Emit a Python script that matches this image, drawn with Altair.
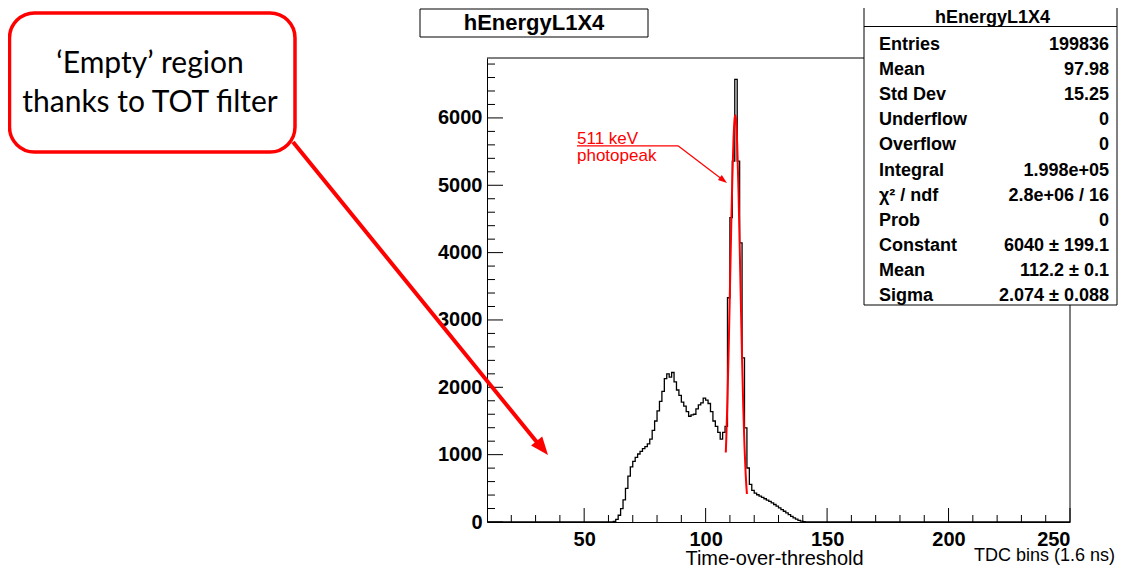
import altair as alt
import pandas as pd

# ---------------- data ----------------
hist_first_edge = 10          # left edge of first bin (TDC bins)
hist_last_edge = 250          # right edge of last bin
hist_lead_zeros = [0] * 50    # bins 10..59 are empty
# bins 60 .. 141 (width 1)
hist_counts_main = [
    0, 0, 10, 40, 100, 200, 330, 500, 680, 820,            # 60-69
    900, 960, 1010, 1050, 1090, 1120, 1160, 1230, 1360, 1500,  # 70-79
    1650, 1790, 1940, 2130, 2200, 2150, 2220, 2080, 1960, 1880,  # 80-89
    1780, 1720, 1640, 1570, 1590, 1600, 1680, 1740, 1770, 1840,  # 90-99
    1810, 1760, 1640, 1500, 1420, 1330, 1230, 1330, 1420, 3330,  # 100-109
    4520, 5360, 6573, 5360, 4145, 2437, 1397, 802, 560, 470,     # 110-119
    430, 405, 385, 365, 345, 325, 305, 285, 260, 235,            # 120-129
    210, 185, 160, 135, 110, 85, 62, 42, 25, 12,                 # 130-139
    5, 2,                                                        # 140-141
]

# red fit curve
fit_x = [108.3, 108.5, 109, 109.5, 110, 110.5, 111, 111.5, 112, 112.2,
         112.5, 113, 113.5, 114, 114.5, 115, 115.5, 116, 116.5, 117]
fit_y = [1031, 1230, 1836, 2589, 3441, 4316, 5109, 5705, 6012, 6040,
         5977, 5607, 4963, 4145, 3266, 2428, 1703, 1128, 704, 415]

y_major = [0, 1000, 2000, 3000, 4000, 5000, 6000]
y_minor = [200, 400, 600, 800, 1200, 1400, 1600, 1800, 2200, 2400, 2600, 2800,
           3200, 3400, 3600, 3800, 4200, 4400, 4600, 4800, 5200, 5400, 5600,
           5800, 6200, 6400, 6600, 6800]
x_major = [50, 100, 150, 200, 250]
x_minor = [20, 30, 40, 60, 70, 80, 90, 110, 120, 130, 140, 160, 170, 180, 190,
           210, 220, 230, 240]

y_max = 6890

title_text = "hEnergyL1X4"
stats_labels = ["Entries", "Mean", "Std Dev", "Underflow", "Overflow", "Integral",
                "χ² / ndf", "Prob", "Constant", "Mean", "Sigma"]
stats_values = ["199836", "97.98", "15.25", "0", "0", "1.998e+05", "2.8e+06 / 16",
                "0", "6040 ± 199.1", "112.2 ± 0.1", "2.074 ± 0.088"]
x_title = "Time-over-threshold"
x_unit = "TDC bins (1.6 ns)"
note_lines = ["‘Empty’ region", "thanks to TOT filter"]
peak_lines = ["511 keV", "photopeak"]

# ---------------- build tables ----------------
counts = hist_lead_zeros + hist_counts_main
counts = counts + [0] * (hist_last_edge - hist_first_edge - len(counts))
edges = list(range(hist_first_edge, hist_last_edge)) + [hist_last_edge]
hist_df = pd.DataFrame({"x": edges, "y": counts + [counts[-1]]})
fit_df = pd.DataFrame({"x": fit_x, "y": fit_y})
one = pd.DataFrame({"k": [0]})

W, H = 583, 464
D = 2   # plot sits 2px higher than the page decorations' reference frame
FONT = "Liberation Sans, Arial, Helvetica, sans-serif"
RED = "#ff0000"

xscale = alt.Scale(domain=[hist_first_edge, hist_last_edge], nice=False, zero=False)
yscale = alt.Scale(domain=[0, y_max], nice=False, zero=True)

xaxis = alt.Axis(values=x_major, format="d", ticks=False, tickSize=0, grid=False,
                 labelFont=FONT, labelFontWeight="bold", labelFontSize=20,
                 labelColor="black", labelPadding=7, domainColor="black",
                 domainWidth=1, title=x_title, titleFont=FONT,
                 titleFontWeight="normal", titleFontSize=20, titleColor="black",
                 titleX=287, titleY=42, titleBaseline="alphabetic")
yaxis = alt.Axis(values=y_major, format="d", ticks=False, tickSize=0, grid=False,
                 labelFont=FONT, labelFontWeight="bold", labelFontSize=20,
                 labelColor="black", labelPadding=5, domainColor="black",
                 domainWidth=1, title="")


def X(f):
    return alt.X(f, type="quantitative", scale=xscale, axis=xaxis)


def Y(f):
    return alt.Y(f, type="quantitative", scale=yscale, axis=yaxis)


def v(y):
    return alt.value(y + D)


# frame top / right
frame_top = alt.Chart(one).mark_rule(color="black", strokeWidth=1).encode(
    x=alt.value(0), x2=alt.value(W), y=alt.value(0))
frame_right = alt.Chart(one).mark_rule(color="black", strokeWidth=1).encode(
    x=alt.value(W), y=alt.value(0), y2=alt.value(H))

hist = alt.Chart(hist_df).mark_line(interpolate="step-after", color="black",
                                    strokeWidth=1.3, clip=True).encode(
    x=X("x"), y=Y("y"))

# inward ticks
ytick_major = alt.Chart(pd.DataFrame({"y": y_major})).mark_rule(color="black").encode(
    y=Y("y"), x=alt.value(0), x2=alt.value(16))
ytick_minor = alt.Chart(pd.DataFrame({"y": y_minor})).mark_rule(color="black").encode(
    y=Y("y"), x=alt.value(0), x2=alt.value(8))
xtick_major = alt.Chart(pd.DataFrame({"x": x_major})).mark_rule(color="black").encode(
    x=X("x"), y=alt.value(H), y2=alt.value(H - 14))
xtick_minor = alt.Chart(pd.DataFrame({"x": x_minor})).mark_rule(color="black").encode(
    x=X("x"), y=alt.value(H), y2=alt.value(H - 7))

fit = alt.Chart(fit_df).mark_line(interpolate="monotone", color=RED,
                                  strokeWidth=2, clip=True).encode(
    x=X("x"), y=Y("y"))

# stats box
sb_x1, sb_x2 = 377, 630
stats_box = alt.Chart(one).mark_rect(fill="white", stroke="black", strokeWidth=1).encode(
    x=alt.value(sb_x1), x2=alt.value(sb_x2), y=v(-70), y2=v(245))
stats_sep = alt.Chart(one).mark_rule(color="black", strokeWidth=1).encode(
    x=alt.value(sb_x1), x2=alt.value(sb_x2), y=v(-33.5))
stats_title = alt.Chart(one).mark_text(font=FONT, fontWeight="bold", fontSize=18,
                                       align="center", baseline="alphabetic",
                                       color="black").encode(
    x=alt.value((sb_x1 + sb_x2) / 2 + 2), y=v(-37), text=alt.value(title_text))
stats_lab = alt.Chart(one).mark_text(font=FONT, fontWeight="bold", fontSize=18,
                                     align="left", baseline="alphabetic",
                                     lineBreak="\n", lineHeight=25.1,
                                     color="black").encode(
    x=alt.value(392), y=v(-10), text=alt.value("\n".join(stats_labels)))
stats_val = alt.Chart(one).mark_text(font=FONT, fontWeight="bold", fontSize=18,
                                     align="right", baseline="alphabetic",
                                     lineBreak="\n", lineHeight=25.1,
                                     color="black").encode(
    x=alt.value(622), y=v(-10), text=alt.value("\n".join(stats_values)))

# title box
tbox = alt.Chart(one).mark_rect(fill="white", stroke="black", strokeWidth=1).encode(
    x=alt.value(-67), x2=alt.value(161), y=v(-51), y2=v(-23))
ttext = alt.Chart(one).mark_text(font=FONT, fontWeight="bold", fontSize=22,
                                 align="center", baseline="alphabetic",
                                 color="black").encode(
    x=alt.value(47), y=v(-30), text=alt.value(title_text))

# annotation callout
note_box = alt.Chart(one).mark_rect(fill="white", stroke=RED, strokeWidth=3.5,
                                    cornerRadius=25).encode(
    x=alt.value(-477.5), x2=alt.value(-192), y=v(-47), y2=v(92))
note_t1 = alt.Chart(one).mark_text(font="Lato", fontSize=30, align="center",
                                   baseline="alphabetic", color="black").encode(
    x=alt.value(-337), y=v(13), text=alt.value(note_lines[0]))
note_t2 = alt.Chart(one).mark_text(font="Lato", fontSize=30, align="center",
                                   baseline="alphabetic", color="black").encode(
    x=alt.value(-337), y=v(52), text=alt.value(note_lines[1]))
big_arrow = alt.Chart(one).mark_rule(color=RED, strokeWidth=4).encode(
    x=alt.value(-194), y=v(82), x2=alt.value(53), y2=v(386))
big_head = alt.Chart(one).mark_point(shape="M0,0L-2,-0.8L-2,0.8Z", filled=True,
                                     fill=RED, color=RED, opacity=1, size=324,
                                     angle=50.8, strokeWidth=0).encode(
    x=alt.value(61), y=v(395))

# photopeak label
pk_t1 = alt.Chart(one).mark_text(font=FONT, fontSize=17, align="left",
                                 baseline="alphabetic", color=RED).encode(
    x=alt.value(90), y=v(83.5), text=alt.value(peak_lines[0]))
pk_t2 = alt.Chart(one).mark_text(font=FONT, fontSize=17, align="left",
                                 baseline="alphabetic", color=RED).encode(
    x=alt.value(90), y=v(100.5), text=alt.value(peak_lines[1]))
pk_l1 = alt.Chart(one).mark_rule(color=RED, strokeWidth=1.2).encode(
    x=alt.value(90), x2=alt.value(191), y=v(85.8))
pk_l2 = alt.Chart(one).mark_rule(color=RED, strokeWidth=1.2).encode(
    x=alt.value(191), y=v(85.8), x2=alt.value(236), y2=v(120))
pk_head = alt.Chart(one).mark_point(shape="M0,0L-2,-0.7L-2,0.7Z", filled=True,
                                    fill=RED, color=RED, opacity=1, size=81,
                                    angle=37.4, strokeWidth=0).encode(
    x=alt.value(240), y=v(123))

unit_text = alt.Chart(one).mark_text(font=FONT, fontSize=18, align="right",
                                     baseline="alphabetic", color="black").encode(
    x=alt.value(628), y=alt.value(503), text=alt.value(x_unit))

chart = alt.layer(
    hist, frame_top, frame_right, ytick_major, ytick_minor, xtick_major, xtick_minor,
    fit,
    stats_box, stats_sep, stats_title, stats_lab, stats_val,
    tbox, ttext,
    note_box, note_t1, note_t2, big_arrow, big_head,
    pk_l1, pk_l2, pk_head, pk_t1, pk_t2,
    unit_text,
).properties(
    width=W, height=H,
    padding={"left": 479, "top": 50, "right": 48, "bottom": 43},
    autosize=alt.AutoSizeParams(type="none"),
    background="white",
).configure_view(strokeWidth=0)

chart.save("out.html", embed_options={"renderer": "svg", "actions": False})
